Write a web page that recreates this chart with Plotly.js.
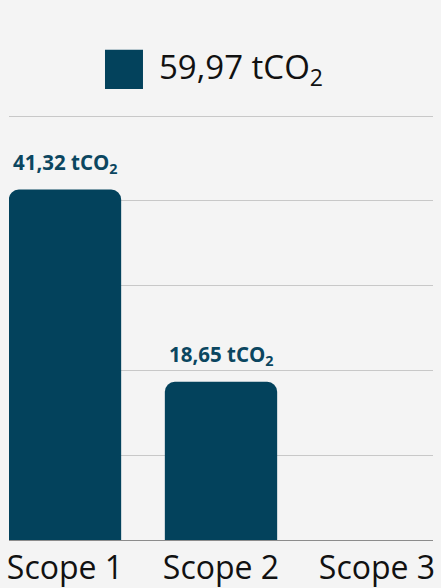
<!DOCTYPE html>
<html>
<head>
<meta charset="utf-8">
<script src="https://cdn.plot.ly/plotly-3.0.1.min.js"></script>
<style>html,body{margin:0;padding:0;background:#f4f4f4;}</style>
</head>
<body>
<div id="chart" style="width:441px;height:588px;"></div>
<script>
const categories = ["Scope 1", "Scope 2", "Scope 3"];
const values = [41.32, 18.65, 0];
const unit = "tCO<sub>2</sub>";
const yTicks = [0, 10, 20, 30, 40, 50];

const fmt = v => v.toFixed(2).replace('.', ',');
const total = values.reduce((a, b) => a + b, 0);

const barColor = "#03425c";
const FONT = "Open Sans, sans-serif";

const trace = {
  type: "bar",
  x: categories,
  y: values,
  width: 0.72,
  marker: { color: barColor, cornerradius: 10, line: { width: 0 } },
  hoverinfo: "none",
  showlegend: false
};

const annotations = categories
  .map((c, i) => ({ c, v: values[i] }))
  .filter(d => d.v > 0)
  .map(d => ({
    x: d.c, y: d.v, xref: "x", yref: "y",
    text: fmt(d.v) + " " + unit,
    showarrow: false, yanchor: "bottom", yshift: 10,
    font: { family: FONT, size: 20.5, color: "#0b4660", weight: 700 }
  }));

annotations.push({
  xref: "paper", yref: "paper", x: 0.35, y: 1.1085,
  xanchor: "left", yanchor: "middle",
  text: fmt(total) + " " + unit, showarrow: false,
  font: { family: FONT, size: 33, color: "#111111" }
});

const layout = {
  width: 441, height: 588,
  margin: { l: 9, r: 8, t: 115, b: 48 },
  paper_bgcolor: "#f4f4f4", plot_bgcolor: "#f4f4f4",
  font: { family: FONT, color: "#111111" },
  xaxis: {
    type: "category", categoryarray: categories, categoryorder: "array",
    range: [-0.359, 2.359],
    showgrid: false, zeroline: false,
    showline: true, linecolor: "#8c8c8c", linewidth: 1,
    ticks: "", ticklabelstandoff: 0,
    tickfont: { family: FONT, size: 32, color: "#111111" },
    fixedrange: true
  },
  yaxis: {
    range: [0, 50.12], tickvals: yTicks, showticklabels: false,
    showgrid: true, gridcolor: "#c8c8c8", gridwidth: 1,
    zeroline: false, showline: false, ticks: "", fixedrange: true
  },
  shapes: [{
    type: "rect", xref: "paper", yref: "paper",
    x0: 0.2264, x1: 0.316, y0: 1.0613, y1: 1.1533,
    fillcolor: barColor, line: { width: 0 }
  }],
  annotations: annotations,
  showlegend: false
};

Plotly.newPlot("chart", [trace], layout, { displayModeBar: false, staticPlot: true });
</script>
</body>
</html>
